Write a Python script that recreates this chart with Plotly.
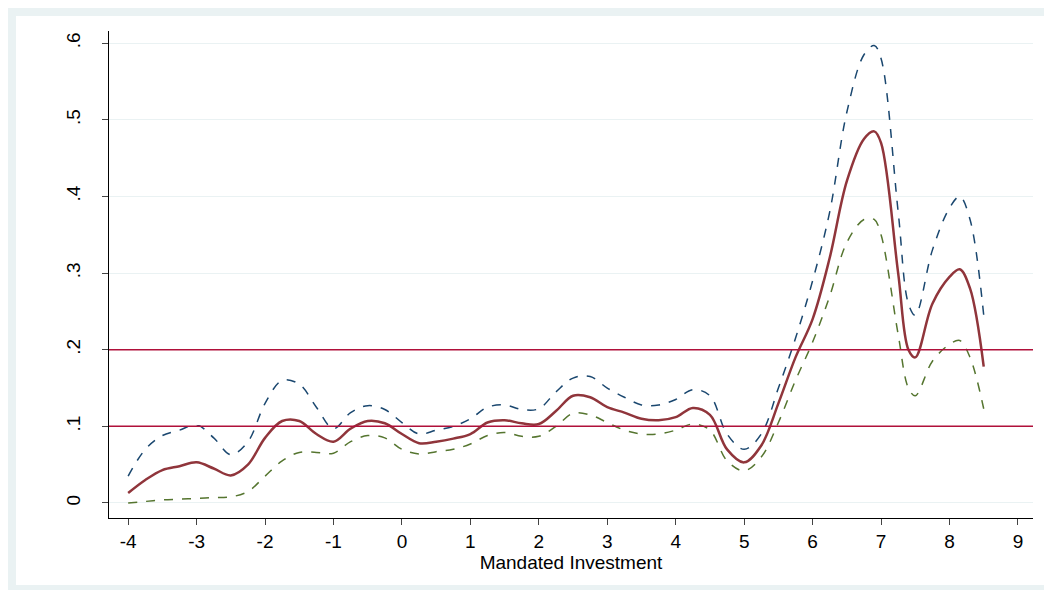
import plotly.graph_objects as go

x = [-4,-3.75,-3.5,-3.25,-3,-2.75,-2.5,-2.25,-2,-1.75,-1.5,-1.25,-1,-0.75,-0.5,-0.25,0,0.25,0.5,0.75,1,1.25,1.5,1.75,2,2.25,2.5,2.75,3,3.25,3.5,3.75,4,4.25,4.5,4.75,5,5.25,5.5,5.75,6,6.25,6.5,6.75,6.9,7,7.25,7.4,7.5,7.75,8,8.15,8.3,8.5]
mid = [0.013,0.03,0.043,0.048,0.053,0.045,0.036,0.05,0.085,0.107,0.107,0.09,0.08,0.097,0.107,0.104,0.09,0.078,0.08,0.084,0.09,0.105,0.108,0.104,0.103,0.12,0.14,0.138,0.125,0.118,0.11,0.108,0.112,0.124,0.115,0.07,0.053,0.075,0.13,0.19,0.24,0.32,0.42,0.475,0.485,0.47,0.3,0.2,0.19,0.26,0.295,0.305,0.28,0.178]
upper = [0.035,0.07,0.088,0.095,0.102,0.085,0.063,0.08,0.13,0.16,0.155,0.125,0.097,0.118,0.127,0.122,0.105,0.09,0.095,0.1,0.11,0.125,0.128,0.122,0.123,0.145,0.163,0.165,0.15,0.138,0.128,0.128,0.135,0.148,0.14,0.09,0.07,0.09,0.15,0.215,0.29,0.38,0.51,0.585,0.597,0.58,0.38,0.26,0.245,0.33,0.385,0.4,0.37,0.245]
lower = [0.0,0.002,0.004,0.005,0.006,0.007,0.008,0.015,0.035,0.055,0.066,0.066,0.065,0.08,0.088,0.085,0.07,0.064,0.067,0.07,0.077,0.088,0.092,0.087,0.087,0.1,0.117,0.115,0.105,0.095,0.09,0.09,0.095,0.103,0.095,0.055,0.042,0.06,0.105,0.16,0.21,0.27,0.34,0.37,0.37,0.35,0.22,0.15,0.14,0.185,0.207,0.212,0.19,0.123]
ref_lines = [0.1, 0.2]
xticks = list(range(-4, 10))
xticklabels = [str(v) for v in xticks]
yticks = [0, 0.1, 0.2, 0.3, 0.4, 0.5, 0.6]
yticklabels = ["0", ".1", ".2", ".3", ".4", ".5", ".6"]

fig = go.Figure()
fig.add_trace(go.Scatter(x=x, y=upper, mode="lines", line=dict(color="#1a476f", width=1.5, dash="dash", shape="spline")))
fig.add_trace(go.Scatter(x=x, y=mid, mode="lines", line=dict(color="#90353b", width=2.5, shape="spline")))
fig.add_trace(go.Scatter(x=x, y=lower, mode="lines", line=dict(color="#55752f", width=1.5, dash="dash", shape="spline")))
for r in ref_lines:
    fig.add_hline(y=r, line=dict(color="#b0103a", width=1.5))

fig.add_shape(type="rect", xref="paper", yref="paper",
              x0=(8-101)/924, x1=(1045-101)/924, y0=(510-577)/487, y1=(510-8)/487,
              fillcolor="white", line=dict(width=0), layer="below")

fig.update_layout(
    width=1052, height=590, showlegend=False,
    paper_bgcolor="#EAF2F3", plot_bgcolor="white",
    margin=dict(l=101, r=27, t=23, b=80),
    font=dict(family="Liberation Sans, Arial", size=19, color="black"),
    xaxis=dict(range=[-4.28, 9.22], tickvals=xticks, ticktext=xticklabels, ticks="outside", ticklen=6,
               showline=True, linecolor="black", showgrid=False, zeroline=False,
               title=dict(text="Mandated Investment", standoff=0, font=dict(size=19))),
    yaxis=dict(range=[-0.0196, 0.616], tickvals=yticks, ticktext=yticklabels, tickangle=-90,
               ticks="outside", ticklen=6, ticklabelstandoff=14, showline=True, linecolor="black",
               showgrid=True, gridcolor="#eaf2f3", zeroline=False),
)
fig.write_html("out.html")
